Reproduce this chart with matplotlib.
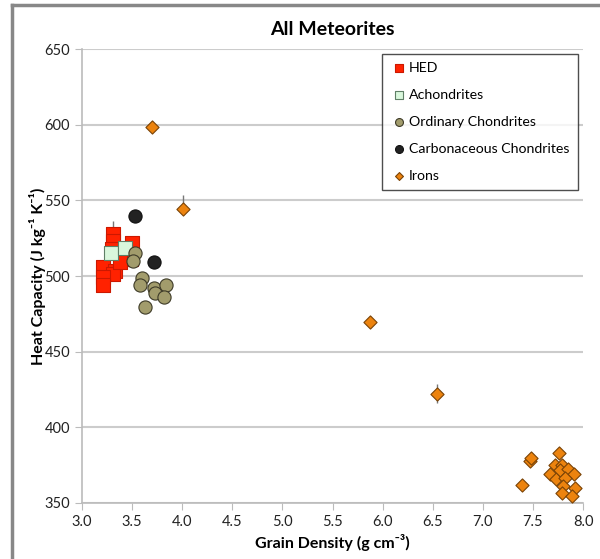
import numpy as np
import matplotlib
matplotlib.use('Agg')
from matplotlib import pyplot as plt
from matplotlib.lines import Line2D

plt.rcParams['font.family'] = ['Lato', 'DejaVu Sans']

# HED
hed_x = [3.31, 3.31, 3.50, 3.41, 3.49, 3.21, 3.33, 3.31, 3.21, 3.21, 3.30, 3.38]
hed_y = [527.6, 523.4, 521.6, 511.0, 511.0, 506.0, 503.0, 501.5, 499.6, 494.0, 518.0, 509.0]
hed_err = [9, 0, 0, 0, 0, 0, 0, 0, 0, 0, 0, 0]

# Achondrites
ach_x = [3.29, 3.43]
ach_y = [515.5, 518.3]

# Ordinary chondrites
oc_x = [3.53, 3.51, 3.60, 3.58, 3.72, 3.73, 3.84, 3.82, 3.63]
oc_y = [515.0, 510.0, 498.5, 494.0, 491.9, 489.0, 494.0, 486.4, 479.7]

# Carbonaceous chondrites
cc_x = [3.53, 3.72]
cc_y = [539.9, 509.1]

# Irons
fe_x = [3.70, 4.01, 5.87, 6.54, 7.39, 7.47, 7.48, 7.76, 7.72, 7.79, 7.67, 7.73, 7.77,
        7.85, 7.91, 7.82, 7.80, 7.92, 7.79, 7.89]
fe_y = [598.7, 544.3, 469.8, 421.8, 361.9, 378.0, 380.0, 383.2, 375.0, 375.0, 369.0,
        366.0, 371.8, 372.3, 369.0, 366.7, 361.4, 359.7, 356.4, 354.8]
fe_err_lo = [0, 0, 0, 6, 0, 0, 0, 0, 0, 0, 0, 0, 0, 0, 0, 0, 0, 0, 0, 0]
fe_err_hi = [0, 9, 0, 7, 0, 0, 0, 0, 0, 0, 0, 0, 0, 0, 0, 0, 0, 0, 0, 0]

fig = plt.figure(figsize=(6, 5.59), dpi=100)
ax = fig.add_axes([0.1367, 0.1002, 0.835, 0.8121])

ax.errorbar(hed_x, hed_y, yerr=[np.zeros(len(hed_err)), hed_err], fmt='none',
            ecolor='#777777', elinewidth=1, zorder=2)
ax.errorbar(fe_x, fe_y, yerr=[fe_err_lo, fe_err_hi], fmt='none',
            ecolor='#777777', elinewidth=1, zorder=2)

ax.scatter(hed_x, hed_y, marker='s', s=110, c='#ff2200', edgecolors='#cc1800',
           linewidths=0.8, label='HED', zorder=3)
ax.scatter(ach_x, ach_y, marker='s', s=90, c='#d9f7dc', edgecolors='#5f7f66',
           linewidths=0.8, label='Achondrites', zorder=4)
ax.scatter(oc_x, oc_y, marker='o', s=90, c='#a29c6c', edgecolors='#3e3b28',
           linewidths=0.8, label='Ordinary Chondrites', zorder=4)
ax.scatter(cc_x, cc_y, marker='o', s=90, c='#222222', edgecolors='#111111',
           linewidths=0.8, label='Carbonaceous Chondrites', zorder=4)
ax.scatter(fe_x, fe_y, marker='D', s=45, c='#ec830e', edgecolors='#7a4306',
           linewidths=0.8, label='Irons', zorder=4)

ax.set_xlim(3.0, 8.0)
ax.set_ylim(350, 650)
ax.set_xticks(np.arange(3.0, 8.01, 0.5))
ax.set_xticklabels(['%.1f' % v for v in np.arange(3.0, 8.01, 0.5)])
ax.set_yticks(np.arange(350, 651, 50))
ax.yaxis.grid(True, color='#cccccc', linewidth=1.5)
ax.set_axisbelow(True)
for s in ['top', 'right']:
    ax.spines[s].set_visible(False)
for s in ['left', 'bottom']:
    ax.spines[s].set_color('#bbbbbb')
    ax.spines[s].set_linewidth(1.2)
ax.tick_params(axis='both', colors='#bbbbbb', labelcolor='#222222', labelsize=10.5,
               length=5)

ax.set_xlabel('Grain Density (g cm⁻³)', fontsize=11.5, fontweight='bold')
ax.set_ylabel('Heat Capacity (J kg⁻¹ K⁻¹)', fontsize=11.5, fontweight='bold', labelpad=-1)
ax.set_title('All Meteorites', fontsize=14, fontweight='bold', pad=10)

leg = ax.legend(loc='upper right', bbox_to_anchor=(0.99, 0.99), borderaxespad=0,
                fontsize=10.2, frameon=True, fancybox=False, edgecolor='#222222',
                handletextpad=0.1, borderpad=0.6, labelspacing=1.05, handlelength=1.2,
                markerscale=0.6)
leg.get_frame().set_linewidth(1)

# outer chart border (left and top visible)
fig.add_artist(Line2D([0.02, 0.02], [0, 0.991], color='#888888', linewidth=2.5))
fig.add_artist(Line2D([0.02, 1.0], [0.991, 0.991], color='#888888', linewidth=2.5))

plt.savefig('out.png', dpi=100)
